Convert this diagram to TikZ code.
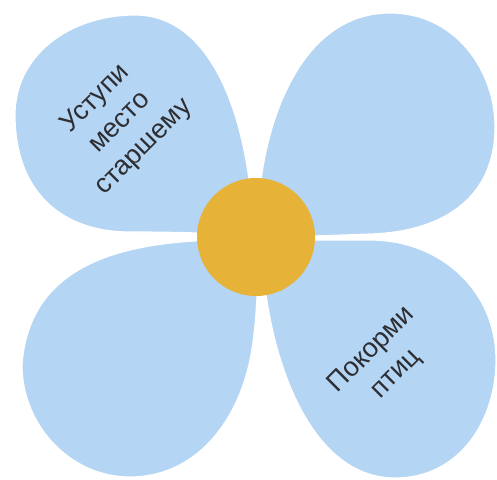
\documentclass[tikz,border=0pt]{standalone}
\usepackage{fontspec}
\setmainfont{Liberation Sans}
\definecolor{petal}{RGB}{180,213,243}
\definecolor{core}{RGB}{230,178,56}
\definecolor{txt}{RGB}{45,45,50}
\begin{document}
\begin{tikzpicture}[x=1pt,y=-1pt,
  petalshape/.style={fill=petal, draw=white, line width=1.2pt},
  petaltext/.style={text=txt, font=\fontsize{27}{34}\selectfont, align=center, rotate=45, inner sep=0pt}]
\useasboundingbox (0,0) rectangle (497,479);
\fill[white] (0,0) rectangle (497,479);
% top-left petal
\path[petalshape] (253,236) .. controls (252,140) and (220,15) .. (135,15)
  .. controls (70,15) and (15,55) .. (15,115)
  .. controls (15,190) and (60,232) .. (130,232)
  .. controls (200,232) and (240,235) .. (253,236) -- cycle;
% top-right petal
\path[petalshape] (258,237) .. controls (255,150) and (290,13) .. (390,13)
  .. controls (455,13) and (495,70) .. (495,127)
  .. controls (495,200) and (440,232) .. (370,234)
  .. controls (320,236) and (280,237) .. (258,237) -- cycle;
% bottom-left petal
\path[petalshape] (255,240) .. controls (150,238) and (30,250) .. (22,365)
  .. controls (22,425) and (70,477) .. (130,477)
  .. controls (190,477) and (235,430) .. (250,360)
  .. controls (258,320) and (258,270) .. (258,240) -- cycle;
% bottom-right petal
\path[petalshape] (262,240) .. controls (262,330) and (300,478) .. (395,478)
  .. controls (460,478) and (496,420) .. (496,360)
  .. controls (496,290) and (440,240) .. (370,240)
  .. controls (320,240) and (280,240) .. (262,240) -- cycle;
% centre
\node[circle, fill=core, minimum size=118pt, inner sep=0pt] (core) at (256,237) {};
% texts
\node[petaltext] (t1) at (120,123) {Уступи\\место\\старшему};
\node[petaltext] (t2) at (384,362) {Покорми\\птиц};
\end{tikzpicture}
\end{document}
